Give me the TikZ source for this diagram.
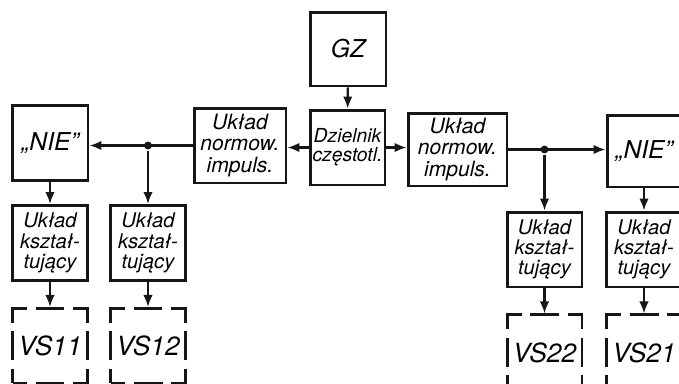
\documentclass[tikz,border=0pt]{standalone}
\usepackage{fontspec}
\setsansfont{TeX Gyre Heros}
\usetikzlibrary{arrows.meta, positioning}
\definecolor{cink}{HTML}{161616}
\tikzset{
  every picture/.style={font=\sffamily\itshape, line width=1.2pt},
  blk/.style={draw=cink, line width=1.7pt, align=center, inner sep=1pt, minimum width=#1, minimum height=1.5cm},
  blk/.default=1.52cm,
  arrow/.style={-{Latex[length=2.4mm, width=1.9mm]}, draw=cink},
  dot/.style={circle, fill=cink, inner sep=0pt, minimum size=4.5pt},
}

\begin{document}
\begin{tikzpicture}[x=0.02cm, y=-0.02cm,
  big/.style={font=\sffamily\itshape\fontsize{14}{14}\selectfont},
  txt/.style={font=\sffamily\itshape\fontsize{#1}{#1}\selectfont}, txt/.default=12,
  vsbox/.style={blk=1.5cm, dash pattern=on 0.58cm off 0.17cm, dash phase=0.29cm, font=\sffamily\itshape\fontsize{15}{15}\selectfont}]
  \useasboundingbox (0,0) rectangle (679,383);
  % main chain
  \node[blk, big, minimum height=1.48cm] (gz) at (348,49) {GZ};
  \node[blk, big] (nie1) at (50,143) {„NIE”};
  \node[blk=1.84cm, txt] (norm1) at (240,145.5) {Układ\\normow.\\impuls.};
  \node[blk=1.5cm, txt=11] (dziel) at (347.5,147.5) {Dzielnik\\częstotl.};
  \node[blk=1.98cm, txt, minimum height=1.46cm] (norm2) at (457.5,149.5) {Układ\\normow.\\impuls.};
  \node[blk=1.48cm, big, minimum height=1.44cm] (nie2) at (644,151) {„NIE”};
  % shaping stages and thyristors
  \foreach \k/\v/\x/\y in {1/11/50/243, 2/12/148/243, 3/22/544.5/249.5, 4/21/644/249.5} {
    \node[blk=1.5cm, txt=11.5] (ksz\k) at (\x,\y) {Układ\\kształ-\\tujący};
    \node[vsbox, below=0.5cm of ksz\k] (vs\v) {VS\v};
    \draw[arrow] (ksz\k) -- (vs\v);
  }
  \draw[arrow] (gz) -- (dziel);
  \draw[arrow] (dziel.west) -- (norm1.east |- dziel.west);
  \draw[arrow] (dziel.east) -- (norm2.west |- dziel.east);
  \draw[arrow] (norm1.west) -- (norm1.west -| nie1.east);
  \draw[arrow] (norm2.east) -- (norm2.east -| nie2.west);
  \node[dot] (j1) at (ksz2 |- norm1.west) {};
  \node[dot] (j2) at (ksz3 |- norm2.east) {};
  \draw[arrow] (j1) -- (ksz2);
  \draw[arrow] (j2) -- (ksz3);
  \draw[arrow] (nie1) -- (ksz1);
  \draw[arrow] (nie2) -- (ksz4);
\end{tikzpicture}
\end{document}
